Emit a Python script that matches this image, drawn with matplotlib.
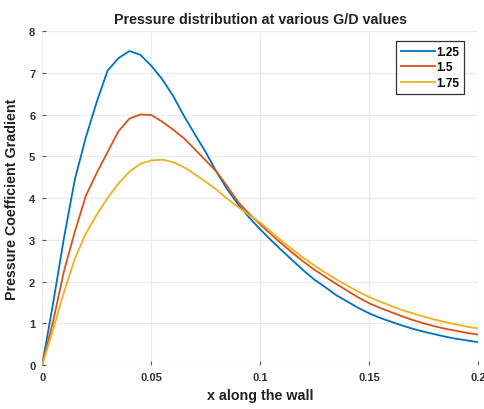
import matplotlib
matplotlib.use("Agg")
import matplotlib.pyplot as plt

plt.rcParams['font.family'] = ['Liberation Sans', 'DejaVu Sans']

x = [0.000, 0.005, 0.010, 0.015, 0.020, 0.025, 0.030, 0.035, 0.040, 0.045,
     0.050, 0.055, 0.060, 0.065, 0.070, 0.075, 0.080, 0.085, 0.090, 0.095,
     0.100, 0.105, 0.110, 0.115, 0.120, 0.125, 0.130, 0.135, 0.140, 0.145,
     0.150, 0.155, 0.160, 0.165, 0.170, 0.175, 0.180, 0.185, 0.190, 0.195, 0.200]

gd_125 = [0.0, 1.48, 3.05, 4.45, 5.45, 6.3, 7.05, 7.35, 7.52, 7.43,
          7.17, 6.85, 6.45, 5.97, 5.53, 5.1, 4.62, 4.2, 3.84, 3.53,
          3.25, 2.99, 2.74, 2.5, 2.26, 2.04, 1.86, 1.67, 1.52, 1.37,
          1.24, 1.13, 1.04, 0.95, 0.87, 0.8, 0.74, 0.68, 0.63, 0.59, 0.55]

gd_150 = [0.0, 1.05, 2.25, 3.2, 4.05, 4.6, 5.1, 5.6, 5.9, 6.0,
          5.99, 5.83, 5.64, 5.43, 5.17, 4.9, 4.63, 4.27, 3.9, 3.62,
          3.37, 3.13, 2.9, 2.68, 2.47, 2.28, 2.11, 1.94, 1.78, 1.62,
          1.48, 1.37, 1.27, 1.17, 1.08, 1.0, 0.93, 0.87, 0.82, 0.77, 0.73]

gd_175 = [0.0, 0.85, 1.75, 2.55, 3.15, 3.6, 4.0, 4.35, 4.63, 4.82,
          4.9, 4.92, 4.86, 4.74, 4.57, 4.39, 4.2, 3.98, 3.78, 3.59,
          3.41, 3.19, 2.97, 2.76, 2.56, 2.38, 2.21, 2.05, 1.9, 1.76,
          1.63, 1.52, 1.42, 1.32, 1.24, 1.16, 1.09, 1.03, 0.97, 0.92, 0.88]

labels = ['1.25', '1.5', '1.75']
colors = ['#0072BD', '#D95319', '#EDB120']
xticks = [0, 0.05, 0.1, 0.15, 0.2]
xticklabels = ['0', '0.05', '0.1', '0.15', '0.2']
yticks = [0, 1, 2, 3, 4, 5, 6, 7, 8]

fig = plt.figure(figsize=(4.85, 4.10), dpi=100)
ax = fig.add_axes([0.087, 0.107, 0.899, 0.815])

for ys, lab, c in zip([gd_125, gd_150, gd_175], labels, colors):
    ax.plot(x, ys, color=c, lw=1.3, label=lab)

ax.set_xlim(0, 0.2)
ax.set_ylim(0, 8)
ax.set_xticks(xticks)
ax.set_xticklabels(xticklabels)
ax.set_yticks(yticks)
ax.grid(True, color='#ebebeb', lw=0.9)
ax.set_axisbelow(True)
for s in ax.spines.values():
    s.set_visible(False)
ax.tick_params(axis='both', direction='in', length=3, width=0.8, color='#555555',
               labelsize=8, labelcolor='#333333', pad=5)
for t in ax.get_xticklabels() + ax.get_yticklabels():
    t.set_fontweight('bold')

ax.set_title('Pressure distribution at various G/D values', fontsize=10.3,
             fontweight='bold', color='#222222', pad=6)
ax.set_xlabel('x along the wall', fontsize=10.3, fontweight='bold', color='#222222', labelpad=4)
ax.set_ylabel('Pressure Coefficient Gradient', fontsize=10.3, fontweight='bold',
              color='#222222', labelpad=7)

leg = ax.legend(loc='upper right', bbox_to_anchor=(0.968, 0.97), fontsize=8.5,
                frameon=True, fancybox=False, edgecolor='black', handlelength=2.9,
                handletextpad=0.1, borderpad=0.4, labelspacing=0.3, borderaxespad=0)
leg.get_frame().set_linewidth(0.9)
for t in leg.get_texts():
    t.set_fontweight('bold')

fig.savefig('out.png', dpi=100)
